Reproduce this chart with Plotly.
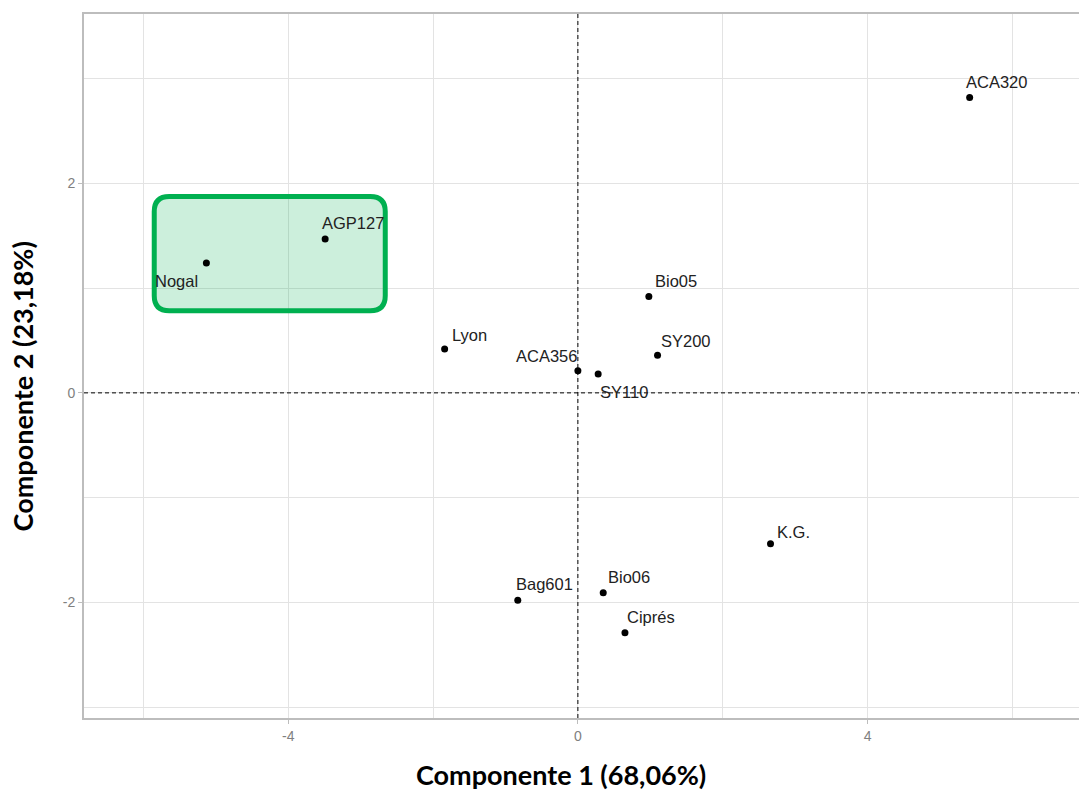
import plotly.graph_objects as go

# ---------------- data ----------------
genotypes = ["ACA320", "AGP127", "Nogal", "Lyon", "Bio05", "SY200",
             "ACA356", "SY110", "K.G.", "Bio06", "Ciprés", "Bag601"]
pc1 = [5.41, -3.49, -5.13, -1.84, 0.98, 1.10, 0.00, 0.28, 2.66, 0.35, 0.65, -0.83]
pc2 = [2.82, 1.47, 1.24, 0.42, 0.92, 0.36, 0.21, 0.18, -1.44, -1.91, -2.29, -1.98]

x_title = "Componente 1 (68,06%)"
y_title = "Componente 2 (23,18%)"
x_major = [-4, 0, 4]
x_minor = [-6, -2, 2, 6]
y_major = [-2, 0, 2]
y_minor = [-3, -1, 1, 3]

# highlighted group (Nogal, AGP127)
highlight_pc1 = [-5.85, -2.66]
highlight_pc2 = [0.783, 1.876]

# ---------------- label styling (anchor, pixel offsets) ----------------
label_xanchor = ["left", "left", "right", "left", "left", "left",
                 "right", "left", "left", "left", "left", "left"]
label_dx = [-6, -5, -6, 5, 4, 1, 1, 0, 4, 3, 0, -4]
label_dy = [-16, -16, 18, -14, -16, -14, -15, 18, -12, -16, -16, -16]

X_RANGE = [-6.82, 6.92]
Y_RANGE = [-3.105, 3.618]

GRID = "#e3e3e3"
AXLINE = "#bdbdbd"
LABEL_FONT = "Liberation Sans, Arial, sans-serif"
TITLE_FONT = "Lato, sans-serif"

fig = go.Figure()

fig.add_trace(go.Scatter(
    x=pc1, y=pc2, mode="markers",
    marker=dict(color="black", size=7),
    text=genotypes, hoverinfo="text", showlegend=False,
))

annotations = []
for name, xv, yv, xa, dx, dy in zip(genotypes, pc1, pc2, label_xanchor, label_dx, label_dy):
    annotations.append(dict(
        x=xv, y=yv, xref="x", yref="y", text=name, showarrow=False,
        xanchor=xa, yanchor="middle", xshift=dx, yshift=-dy,
        font=dict(family=LABEL_FONT, size=16.5, color="#222222"),
    ))

annotations.append(dict(
    x=(561 - 84) / 995, y=0, xref="paper", yref="paper", text=x_title,
    showarrow=False, xanchor="center", yanchor="middle", yshift=-56,
    font=dict(family=TITLE_FONT, size=27, color="black", weight="bold"),
))
annotations.append(dict(
    x=0, y=(717.7 - 386) / 704.2, xref="paper", yref="paper", text=y_title,
    showarrow=False, xanchor="center", yanchor="middle", xshift=-62,
    textangle=-90,
    font=dict(family=TITLE_FONT, size=27, color="black", weight="bold"),
))

# rounded highlight rectangle (data coordinates)
x0, x1 = highlight_pc1
y0, y1 = highlight_pc2
rx, ry = 15 / 72.4, 15 / 104.75
path = (f"M {x0 + rx},{y1} L {x1 - rx},{y1} Q {x1},{y1} {x1},{y1 - ry} "
        f"L {x1},{y0 + ry} Q {x1},{y0} {x1 - rx},{y0} "
        f"L {x0 + rx},{y0} Q {x0},{y0} {x0},{y0 + ry} "
        f"L {x0},{y1 - ry} Q {x0},{y1} {x0 + rx},{y1} Z")

shapes = [
    dict(type="line", xref="x", yref="paper", x0=0, x1=0, y0=0, y1=1,
         line=dict(color="black", width=1, dash="4px,3px"), layer="above"),
    dict(type="line", xref="paper", yref="y", x0=0, x1=1, y0=0, y1=0,
         line=dict(color="black", width=1, dash="4px,3px"), layer="above"),
    dict(type="path", xref="x", yref="y", path=path,
         fillcolor="rgba(0,176,80,0.2)",
         line=dict(color="#00b050", width=5), layer="between"),
]

fig.update_layout(
    width=1079, height=799,
    margin=dict(l=84, r=0, t=14, b=81),
    paper_bgcolor="white", plot_bgcolor="white",
    annotations=annotations, shapes=shapes,
    xaxis=dict(
        range=X_RANGE, tickmode="array", tickvals=x_major,
        ticktext=[str(v) for v in x_major],
        showgrid=True, gridcolor=GRID, gridwidth=1, zeroline=False,
        minor=dict(tickmode="array", tickvals=x_minor, showgrid=True,
                   gridcolor=GRID, gridwidth=1, ticks=""),
        showline=True, linecolor=AXLINE, linewidth=2, mirror=True,
        ticks="outside", ticklen=4, tickcolor=AXLINE,
        tickfont=dict(family=LABEL_FONT, size=14, color="#808080"),
    ),
    yaxis=dict(
        range=Y_RANGE, tickmode="array", tickvals=y_major,
        ticktext=[str(v) for v in y_major],
        showgrid=True, gridcolor=GRID, gridwidth=1, zeroline=False,
        minor=dict(tickmode="array", tickvals=y_minor, showgrid=True,
                   gridcolor=GRID, gridwidth=1, ticks=""),
        showline=True, linecolor=AXLINE, linewidth=2, mirror=False,
        ticks="outside", ticklen=4, tickcolor=AXLINE,
        tickfont=dict(family=LABEL_FONT, size=14, color="#808080"),
    ),
)

fig.write_html("out.html")
